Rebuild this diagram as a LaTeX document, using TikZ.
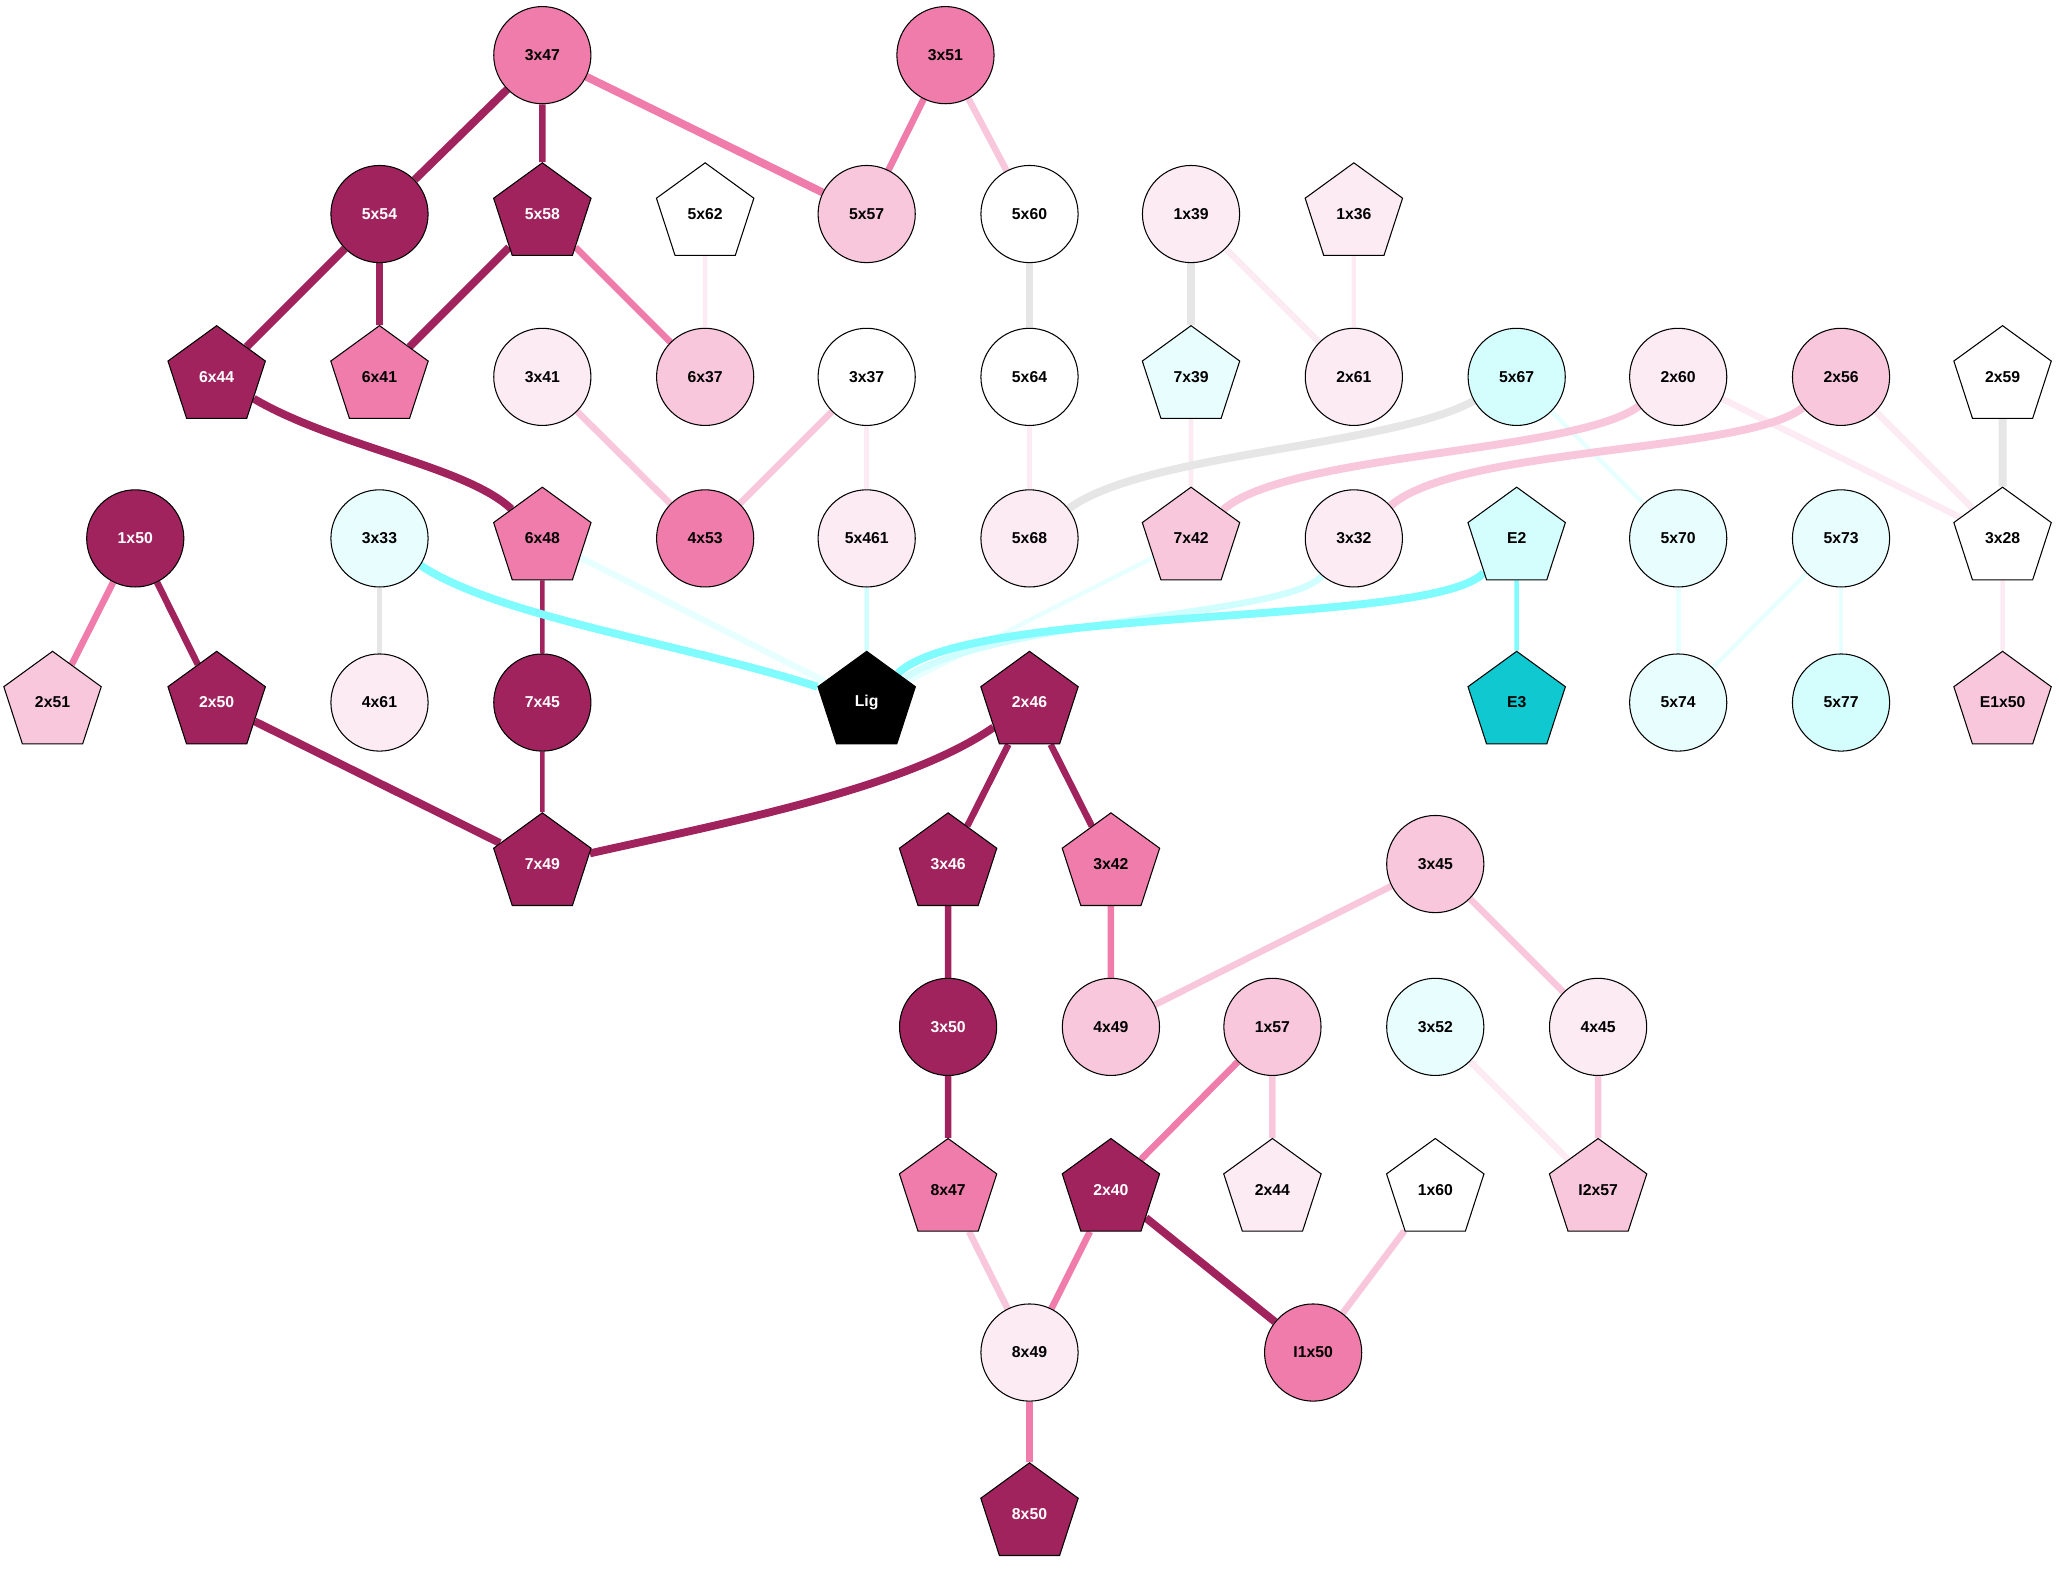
\documentclass[tikz,border=0pt]{standalone}
\usepackage{fontspec}
\setmainfont{Liberation Sans}
\usetikzlibrary{shapes.geometric,backgrounds}

\definecolor{dk}{HTML}{A0235E}
\definecolor{md}{HTML}{F07CAB}
\definecolor{lt}{HTML}{F9C7DC}
\definecolor{vl}{HTML}{FCEBF3}
\definecolor{cya}{HTML}{E8FEFE}
\definecolor{cyb}{HTML}{D4FEFE}
\definecolor{teal}{HTML}{10C8D0}
\definecolor{gr}{HTML}{E6E6E6}
\definecolor{cyan}{HTML}{80FCFF}
\definecolor{cym}{HTML}{D0FEFE}
\definecolor{cyl}{HTML}{E8FFFF}

\tikzset{
  cir/.style={circle, minimum size=74pt},
  pent/.style={regular polygon, regular polygon sides=5, minimum size=78pt},
  wt/.style={text=white},
  lwa/.style={line width=3.5pt},
  lwb/.style={line width=5pt},
  lwc/.style={line width=6pt}
}

\begin{document}
\begin{tikzpicture}[x=1pt,y=-1pt]

        \useasboundingbox (0,0) rectangle (1568,1196);

        \begin{scope}[every node/.style={draw, line width=0.8pt, inner sep=0pt, font=\bfseries\fontsize{12}{14}\selectfont}]
          \node[cir, fill=md] (3x47)  at (413,42)  {3x47};
          \node[cir, fill=md] (3x51)  at (720,42)  {3x51};

          \node[cir, fill=dk, wt] (5x54)   at (289,163)  {5x54};
          \node[pent, fill=dk, wt] (5x58)  at (413,163)  {5x58};
          \node[pent, fill=white] (5x62)   at (537,163)  {5x62};
          \node[cir, fill=lt] (5x57)       at (660,163)  {5x57};
          \node[cir, fill=white] (5x60)    at (784,163)  {5x60};
          \node[cir, fill=vl] (1x39)       at (907,163)  {1x39};
          \node[pent, fill=vl] (1x36)      at (1031,163) {1x36};

          \node[pent, fill=dk, wt] (6x44)  at (165,287)  {6x44};
          \node[pent, fill=md] (6x41)      at (289,287)  {6x41};
          \node[cir, fill=vl] (3x41)       at (413,287)  {3x41};
          \node[cir, fill=lt] (6x37)       at (537,287)  {6x37};
          \node[cir, fill=white] (3x37)    at (660,287)  {3x37};
          \node[cir, fill=white] (5x64)    at (784,287)  {5x64};
          \node[pent, fill=cya] (7x39)     at (907,287)  {7x39};
          \node[cir, fill=vl] (2x61)       at (1031,287) {2x61};
          \node[cir, fill=cyb] (5x67)      at (1155,287) {5x67};
          \node[cir, fill=vl] (2x60)       at (1278,287) {2x60};
          \node[cir, fill=lt] (2x56)       at (1402,287) {2x56};
          \node[pent, fill=white] (2x59)   at (1525,287) {2x59};

          \node[cir, fill=dk, wt] (1x50)   at (103,410)  {1x50};
          \node[cir, fill=cya] (3x33)      at (289,410)  {3x33};
          \node[pent, fill=md] (6x48)      at (413,410)  {6x48};
          \node[cir, fill=md] (4x53)       at (537,410)  {4x53};
          \node[cir, fill=vl] (5x461)      at (660,410)  {5x461};
          \node[cir, fill=vl] (5x68)       at (784,410)  {5x68};
          \node[pent, fill=lt] (7x42)      at (907,410)  {7x42};
          \node[cir, fill=vl] (3x32)       at (1031,410) {3x32};
          \node[pent, fill=cyb] (E2)       at (1155,410) {E2};
          \node[cir, fill=cya] (5x70)      at (1278,410) {5x70};
          \node[cir, fill=cya] (5x73)      at (1402,410) {5x73};
          \node[pent, fill=white] (3x28)   at (1525,410) {3x28};

          \node[pent, fill=lt] (2x51)      at (40,535)   {2x51};
          \node[pent, fill=dk, wt] (2x50)  at (165,535)  {2x50};
          \node[cir, fill=vl] (4x61)       at (289,535)  {4x61};
          \node[cir, fill=dk, wt] (7x45)   at (413,535)  {7x45};
          \node[pent, fill=black, wt] (Lig) at (660,535) {Lig};
          \node[pent, fill=dk, wt] (2x46)  at (784,535)  {2x46};
          \node[pent, fill=teal] (E3)      at (1155,535) {E3};
          \node[cir, fill=cya] (5x74)      at (1278,535) {5x74};
          \node[cir, fill=cyb] (5x77)      at (1402,535) {5x77};
          \node[pent, fill=lt] (E1x50)     at (1525,535) {E1x50};

          \node[pent, fill=dk, wt] (7x49)  at (413,658)  {7x49};
          \node[pent, fill=dk, wt] (3x46)  at (722,658)  {3x46};
          \node[pent, fill=md] (3x42)      at (846,658)  {3x42};
          \node[cir, fill=lt] (3x45)       at (1093,658) {3x45};

          \node[cir, fill=dk, wt] (3x50)   at (722,782)  {3x50};
          \node[cir, fill=lt] (4x49)       at (846,782)  {4x49};
          \node[cir, fill=lt] (1x57)       at (969,782)  {1x57};
          \node[cir, fill=cya] (3x52)      at (1093,782) {3x52};
          \node[cir, fill=vl] (4x45)       at (1217,782) {4x45};

          \node[pent, fill=md] (8x47)      at (722,906)  {8x47};
          \node[pent, fill=dk, wt] (2x40)  at (846,906)  {2x40};
          \node[pent, fill=vl] (2x44)      at (969,906)  {2x44};
          \node[pent, fill=white] (1x60)   at (1093,906) {1x60};
          \node[pent, fill=lt] (I2x57)     at (1217,906) {I2x57};

          \node[cir, fill=vl] (8x49)       at (784,1030) {8x49};
          \node[cir, fill=md] (I1x50)      at (1000,1030) {I1x50};

          \node[pent, fill=dk, wt] (8x50)  at (784,1153) {8x50};
        \end{scope}

        \begin{pgfonlayer}{background}
          \begin{scope}[every edge/.style={draw}]
            \path (3x47)  edge[dk, lwc] (5x54);
            \path (3x47)  edge[dk, lwb] (5x58);
            \path (3x47)  edge[md, lwc] (5x57);
            \path (3x51)  edge[md, lwb] (5x57);
            \path (3x51)  edge[lt, lwb] (5x60);
            \path (5x54)  edge[dk, lwc] (6x44);
            \path (5x54)  edge[dk, lwb] (6x41);
            \path (5x58)  edge[dk, lwc] (6x41);
            \path (5x58)  edge[md, lwb] (6x37);
            \path (5x62)  edge[vl, lwa] (6x37);
            \path (5x60)  edge[gr, lwc] (5x64);
            \path (1x39)  edge[gr, lwc] (7x39);
            \path (1x39)  edge[vl, lwb] (2x61);
            \path (1x36)  edge[vl, lwa] (2x61);
            \path (3x41)  edge[lt, lwb] (4x53);
            \path (3x37)  edge[lt, lwb] (4x53);
            \path (3x37)  edge[vl, lwa] (5x461);
            \path (5x64)  edge[vl, lwa] (5x68);
            \path (7x39)  edge[vl, lwa] (7x42);
            \path (5x67)  edge[cyl, lwa] (5x70);
            \path (2x60)  edge[vl, lwb] (3x28);
            \path (2x56)  edge[vl, lwb] (3x28);
            \path (2x59)  edge[gr, lwc] (3x28);
            \path (1x50)  edge[md, lwb] (2x51);
            \path (1x50)  edge[dk, lwb] (2x50);
            \path (3x33)  edge[gr, lwa] (4x61);
            \path (6x48)  edge[cyl, lwb] (Lig);
            \path (6x48)  edge[dk, lwa] (7x45);
            \path (5x461) edge[cym, lwa] (Lig);
            \path (7x42)  edge[cyl, lwa] (Lig);
            \path (E2)    edge[cyan, lwa] (E3);
            \path (5x70)  edge[cyl, lwa] (5x74);
            \path (5x73)  edge[cyl, lwa] (5x74);
            \path (5x73)  edge[cyl, lwa] (5x77);
            \path (3x28)  edge[vl, lwa] (E1x50);
            \path (2x50)  edge[dk, lwc] (7x49);
            \path (7x45)  edge[dk, lwa] (7x49);
            \path (2x46)  edge[dk, lwb] (3x46);
            \path (2x46)  edge[dk, lwb] (3x42);
            \path (3x46)  edge[dk, lwb] (3x50);
            \path (3x42)  edge[md, lwb] (4x49);
            \path (3x45)  edge[lt, lwb] (4x49);
            \path (3x45)  edge[lt, lwb] (4x45);
            \path (3x50)  edge[dk, lwb] (8x47);
            \path (1x57)  edge[md, lwb] (2x40);
            \path (1x57)  edge[lt, lwb] (2x44);
            \path (3x52)  edge[vl, lwb] (I2x57);
            \path (4x45)  edge[lt, lwb] (I2x57);
            \path (8x47)  edge[lt, lwb] (8x49);
            \path (2x40)  edge[md, lwb] (8x49);
            \path (2x40)  edge[dk, lwc] (I1x50);
            \path (1x60)  edge[lt, lwb] (I1x50);
            \path (8x49)  edge[md, lwb] (8x50);
          \end{scope}

          % curved ones
          \draw[dk, lwc]   (6x44) .. controls (255,340) and (355,355) .. (6x48);
          \draw[gr, lwc]   (5x67) .. controls (1060,340) and (870,345) .. (5x68);
          \draw[lt, lwc]   (2x60) .. controls (1200,345) and (980,345) .. (7x42);
          \draw[lt, lwc]   (2x56) .. controls (1330,345) and (1110,340) .. (3x32);
          \draw[cyan, lwc] (3x33) .. controls (380,470) and (520,490) .. (Lig);
          \draw[cym, lwb]  (3x32) .. controls (980,470) and (760,470) .. (Lig);
          \draw[cyan, lwc] (E2) .. controls (1090,478) and (740,460) .. (Lig);
          \draw[dk, lwc]   (2x46) .. controls (690,600) and (560,625) .. (7x49);
        \end{pgfonlayer}

      \end{tikzpicture}
\end{document}
